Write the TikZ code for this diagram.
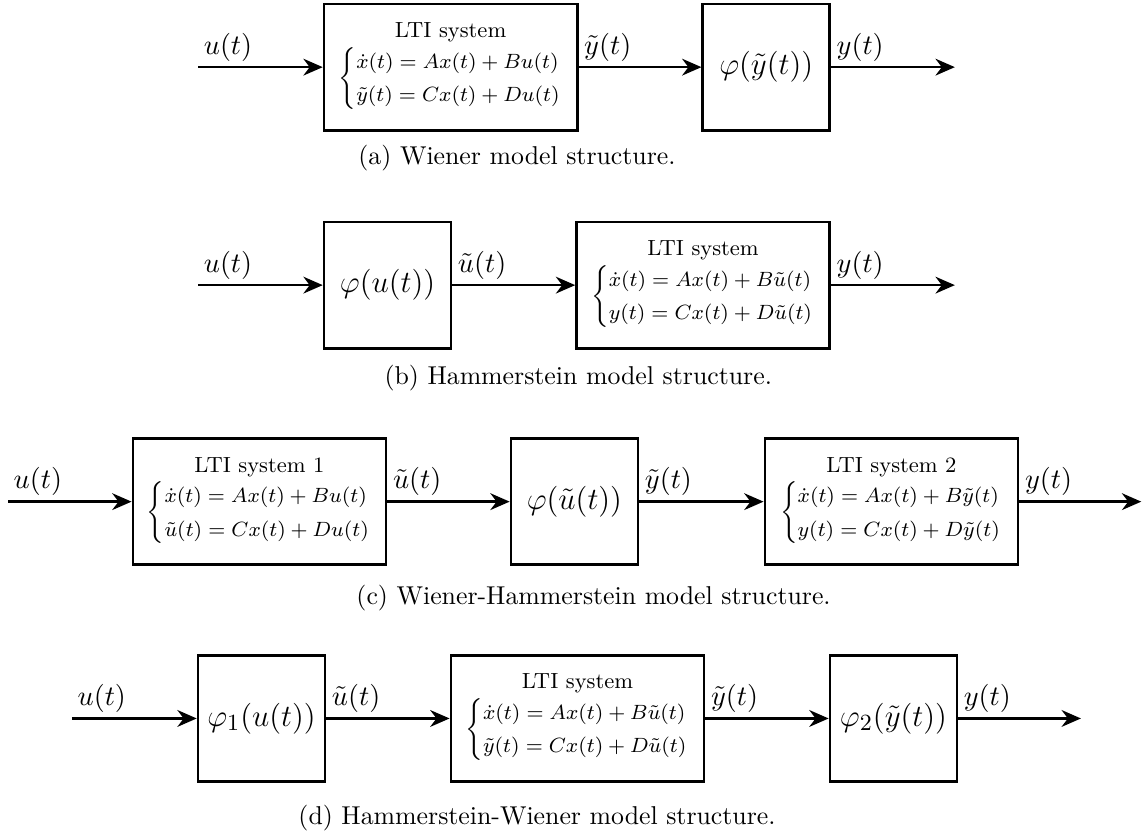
\documentclass[tikz,border=0pt]{standalone}
\usepackage{amsmath}
\usepackage{tikz}
\usetikzlibrary{arrows.meta,positioning}

\newcommand{\stateeqs}[2]{$\left\{\renewcommand{\arraystretch}{1.3}\begin{array}{@{}l@{}}#1\\ #2\end{array}\right.$}

\begin{document}
\begin{tikzpicture}[
    lti/.style={rectangle, draw=black, line width=1pt, minimum width=3.45cm, minimum height=1.72cm, align=center, inner sep=2pt, font=\fontsize{8.5}{10}\selectfont},
    nonlin/.style={rectangle, draw=black, line width=1pt, minimum width=1.73cm, minimum height=1.72cm, inner sep=1pt, font=\fontsize{12.6}{15}\selectfont},
    signal/.style={-{Stealth[length=7.5pt,width=6.5pt]}, line width=1pt},
    lbl/.style={anchor=south west, inner sep=2pt, font=\fontsize{10.8}{13}\selectfont},
    caption/.style={anchor=west, inner sep=0pt}
    ]
    \useasboundingbox (0,0) rectangle (15.56,11.335);

    % (a) Wiener
    \coordinate (in_a) at (2.70,10.42);
    \node[lti] (lti_a) at (6.14,10.42) {LTI system\\[0pt]
      \stateeqs{\dot{x}(t) = Ax(t) + Bu(t)}{\tilde{y}(t) = Cx(t) + Du(t)}};
    \node[nonlin] (phi_a) at (10.44,10.42) {$\varphi(\tilde{y}(t))$};
    \coordinate (out_a) at (13.01,10.42);
    \draw[signal] (in_a) -- (lti_a.west);
    \draw[signal] (lti_a.east) -- (phi_a.west);
    \draw[signal] (phi_a.east) -- (out_a);
    \node[lbl] (lu_a) at (in_a) {$u(t)$};
    \node[lbl] (ly_a) at (lti_a.east) {$\tilde{y}(t)$};
    \node[lbl] (lo_a) at (phi_a.east) {$y(t)$};
    \node[caption] (cap_a) at (4.877,9.183) {(a) Wiener model structure.};

    % (b) Hammerstein
    \coordinate (in_b) at (2.70,7.45);
    \node[nonlin] (phi_b) at (5.28,7.45) {$\varphi(u(t))$};
    \node[lti] (lti_b) at (9.58,7.45) {LTI system\\[0pt]
      \stateeqs{\dot{x}(t) = Ax(t) + B\tilde{u}(t)}{y(t) = Cx(t) + D\tilde{u}(t)}};
    \coordinate (out_b) at (13.01,7.45);
    \draw[signal] (in_b) -- (phi_b.west);
    \draw[signal] (phi_b.east) -- (lti_b.west);
    \draw[signal] (lti_b.east) -- (out_b);
    \node[lbl] (lu_b) at (in_b) {$u(t)$};
    \node[lbl] (lv_b) at (phi_b.east) {$\tilde{u}(t)$};
    \node[lbl] (lo_b) at (lti_b.east) {$y(t)$};
    \node[caption] (cap_b) at (5.232,6.185) {(b) Hammerstein model structure.};

    % (c) Wiener-Hammerstein
    \coordinate (in_c) at (0.11,4.50);
    \node[lti] (lti1_c) at (3.535,4.50) {LTI system 1\\[0pt]
      \stateeqs{\dot{x}(t) = Ax(t) + Bu(t)}{\tilde{u}(t) = Cx(t) + Du(t)}};
    \node[nonlin] (phi_c) at (7.827,4.50) {$\varphi(\tilde{u}(t))$};
    \node[lti] (lti2_c) at (12.146,4.50) {LTI system 2\\[0pt]
      \stateeqs{\dot{x}(t) = Ax(t) + B\tilde{y}(t)}{y(t) = Cx(t) + D\tilde{y}(t)}};
    \coordinate (out_c) at (15.55,4.50);
    \draw[signal] (in_c) -- (lti1_c.west);
    \draw[signal] (lti1_c.east) -- (phi_c.west);
    \draw[signal] (phi_c.east) -- (lti2_c.west);
    \draw[signal] (lti2_c.east) -- (out_c);
    \node[lbl] (lu_c) at (in_c) {$u(t)$};
    \node[lbl] (lv_c) at (lti1_c.east) {$\tilde{u}(t)$};
    \node[lbl] (ly_c) at (phi_c.east) {$\tilde{y}(t)$};
    \node[lbl] (lo_c) at (lti2_c.east) {$y(t)$};
    \node[caption] (cap_c) at (4.850,3.188) {(c) Wiener-Hammerstein model structure.};

    % (d) Hammerstein-Wiener
    \coordinate (in_d) at (0.98,1.546);
    \node[nonlin] (phi1_d) at (3.563,1.546) {$\varphi_1(u(t))$};
    \node[lti] (lti_d) at (7.868,1.546) {LTI system\\[0pt]
      \stateeqs{\dot{x}(t) = Ax(t) + B\tilde{u}(t)}{\tilde{y}(t) = Cx(t) + D\tilde{u}(t)}};
    \node[nonlin] (phi2_d) at (12.173,1.546) {$\varphi_2(\tilde{y}(t))$};
    \coordinate (out_d) at (14.728,1.546);
    \draw[signal] (in_d) -- (phi1_d.west);
    \draw[signal] (phi1_d.east) -- (lti_d.west);
    \draw[signal] (lti_d.east) -- (phi2_d.west);
    \draw[signal] (phi2_d.east) -- (out_d);
    \node[lbl] (lu_d) at (in_d) {$u(t)$};
    \node[lbl] (lv_d) at (phi1_d.east) {$\tilde{u}(t)$};
    \node[lbl] (ly_d) at (lti_d.east) {$\tilde{y}(t)$};
    \node[lbl] (lo_d) at (phi2_d.east) {$y(t)$};
    \node[caption] (cap_d) at (4.060,0.191) {(d) Hammerstein-Wiener model structure.};
\end{tikzpicture}
\end{document}
